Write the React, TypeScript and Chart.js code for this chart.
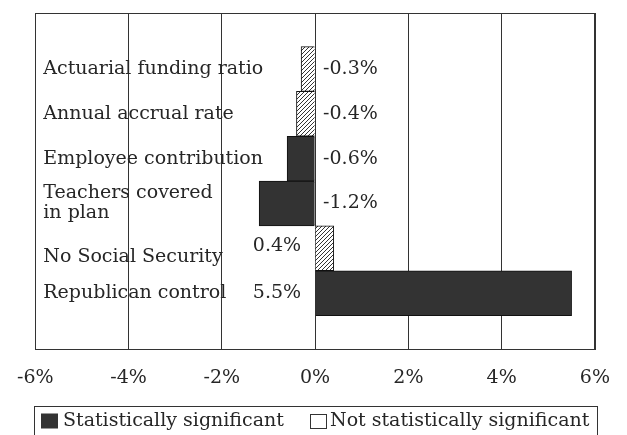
import { useEffect, useRef } from "react";
import { Chart, registerables } from "chart.js";

Chart.register(...registerables);

const categories: (string | string[])[] = [
  "Actuarial funding ratio",
  "Annual accrual rate",
  "Employee contribution",
  ["Teachers covered", "in plan"],
  "No Social Security",
  "Republican control",
];
const values = [-0.3, -0.4, -0.6, -1.2, 0.4, 5.5];
const significant = [false, false, true, true, false, true];
const valueLabels = ["-0.3%", "-0.4%", "-0.6%", "-1.2%", "0.4%", "5.5%"];
const xTicks = [-6, -4, -2, 0, 2, 4, 6];
const xTickLabels = ["-6%", "-4%", "-2%", "0%", "2%", "4%", "6%"];
const seriesNames = ["Statistically significant", "Not statistically significant"];

const FONT = "'DejaVu Serif', serif";
const FSIZE = 19;
const INK = "#262626";
const DARK = "#333";

export default function App() {
  const ref = useRef<HTMLCanvasElement>(null);

  useEffect(() => {
    document.body.style.margin = "0";
    const canvas = ref.current!;
    const pc = document.createElement("canvas");
    pc.width = 4;
    pc.height = 4;
    const p = pc.getContext("2d")!;
    p.fillStyle = "#fff";
    p.fillRect(0, 0, 4, 4);
    p.strokeStyle = "#333";
    p.lineWidth = 1;
    p.beginPath();
    p.moveTo(-1, 5);
    p.lineTo(5, -1);
    p.moveTo(-1, 1);
    p.lineTo(1, -1);
    p.moveTo(3, 5);
    p.lineTo(5, 3);
    p.stroke();
    const hatch = canvas.getContext("2d")!.createPattern(pc, "repeat")!;

    const sigData = values
      .map((v, i) => ({ x: v, y: i }))
      .filter((_, i) => significant[i]);
    const nsData = values
      .map((v, i) => ({ x: v, y: i }))
      .filter((_, i) => !significant[i]);

    const labelPlugin = {
      id: "labelsAndFrame",
      afterDraw(chart: any) {
        const ctx = chart.ctx as CanvasRenderingContext2D;
        const area = chart.chartArea;
        const xs = chart.scales.x;
        const ys = chart.scales.y;
        ctx.save();
        // frame
        ctx.strokeStyle = DARK;
        ctx.lineWidth = 1;
        ctx.strokeRect(
          Math.round(area.left) + 0.5,
          Math.round(area.top) + 0.5,
          Math.round(area.right) - Math.round(area.left),
          Math.round(area.bottom) - Math.round(area.top)
        );
        ctx.font = `${FSIZE}px ${FONT}`;
        ctx.fillStyle = INK;
        ctx.textBaseline = "middle";
        const zero = xs.getPixelForValue(0);
        categories.forEach((c, i) => {
          const yc = ys.getPixelForValue(i);
          const lines = Array.isArray(c) ? c : [c];
          const lh = 20;
          const nudge = i === 4 ? 9 : 0;
          ctx.textAlign = "left";
          lines.forEach((ln, k) => {
            const y = yc + nudge + (k - (lines.length - 1) / 2) * lh;
            ctx.fillText(ln, area.left + 8, y);
          });
          if (values[i] < 0) {
            ctx.textAlign = "left";
            ctx.fillText(valueLabels[i], zero + 8, yc);
          } else {
            ctx.textAlign = "right";
            ctx.fillText(valueLabels[i], zero - 14, yc - (i === 4 ? 2 : 0));
          }
        });
        // legend
        const sq = 17;
        const sqh = 15;
        const t2 = ctx.measureText(seriesNames[1]).width;
        const boxL = Math.round(area.left) - 1;
        const boxR = Math.round(area.right) + 2;
        const boxTop = Math.round(chart.height - 29);
        ctx.strokeStyle = DARK;
        ctx.strokeRect(boxL + 0.5, boxTop + 0.5, boxR - boxL, 60);
        const ly = boxTop + 15;
        let x = boxL + 7;
        ctx.fillStyle = DARK;
        ctx.fillRect(x, ly - sqh / 2, sq, sqh);
        x += sq + 5;
        ctx.fillStyle = INK;
        ctx.textAlign = "left";
        ctx.fillText(seriesNames[0], x, ly);
        x = Math.round(boxR - 8 - t2 - 3 - sq);
        ctx.fillStyle = "#fff";
        ctx.fillRect(x, ly - sqh / 2, sq, sqh);
        ctx.strokeStyle = DARK;
        ctx.strokeRect(x + 0.5, Math.round(ly - sqh / 2) + 0.5, sq - 1, sqh - 1);
        x += sq + 3;
        ctx.fillStyle = INK;
        ctx.fillText(seriesNames[1], x, ly);
        ctx.restore();
      },
    };

    const chart = new Chart(canvas, {
      type: "bar",
      data: {
        datasets: [
          {
            label: seriesNames[0],
            data: sigData as any,
            backgroundColor: DARK,
            borderColor: "#111",
            borderWidth: 1,
            grouped: false,
            barPercentage: 1,
            categoryPercentage: 1,
          } as any,
          {
            label: seriesNames[1],
            data: nsData as any,
            backgroundColor: hatch,
            borderColor: "#111",
            borderWidth: 1,
            grouped: false,
            barPercentage: 1,
            categoryPercentage: 1,
          } as any,
        ],
      },
      plugins: [labelPlugin],
      options: {
        indexAxis: "y",
        animation: false,
        responsive: true,
        maintainAspectRatio: false,
        layout: { padding: { left: 32, right: 29, top: 13, bottom: 29 } },
        plugins: {
          legend: { display: false },
          tooltip: { enabled: false },
        },
        scales: {
          y: {
            type: "linear",
            reverse: true,
            offset: false,
            min: -1.25,
            max: 6.25,
            display: false,
            grid: { display: false, offset: false },
            afterBuildTicks: (axis: any) => {
              axis.ticks = categories.map((_, i) => ({ value: i }));
            },
          },
          x: {
            type: "linear",
            min: -6,
            max: 6,
            afterBuildTicks: (axis: any) => {
              axis.ticks = xTicks.map((v) => ({ value: v }));
            },
            grid: { color: DARK, lineWidth: 1, drawTicks: false },
            border: { display: true, color: DARK },
            ticks: {
              padding: 17,
              color: INK,
              font: { family: FONT, size: FSIZE },
              callback: (_v: any, i: number) => xTickLabels[i],
            },
          },
        },
      } as any,
    });
    return () => chart.destroy();
  }, []);

  return (
    <div style={{ position: "fixed", left: 0, top: 0, width: 627, height: 435 }}>
      <canvas ref={ref} />
    </div>
  );
}
